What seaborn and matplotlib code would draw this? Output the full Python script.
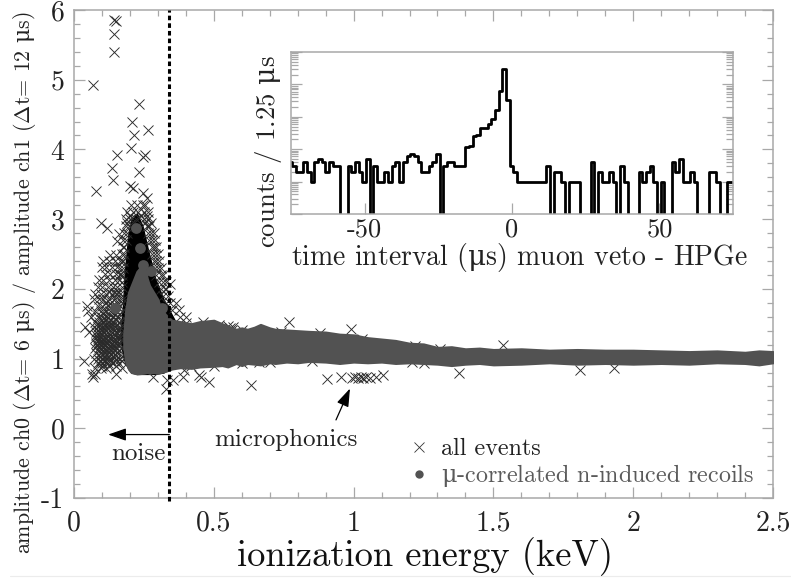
import numpy as np
import matplotlib.pyplot as plt
import seaborn as sns
from matplotlib.lines import Line2D
from matplotlib.ticker import MultipleLocator, LogLocator, NullFormatter

sns.set_style("ticks")
plt.rcParams["font.family"] = ["cmr10", "DejaVu Serif"]
plt.rcParams["mathtext.fontset"] = "custom"
plt.rcParams["mathtext.rm"] = "cmr10"
plt.rcParams["mathtext.it"] = "DejaVu Serif"
plt.rcParams["mathtext.fallback"] = "cm"
plt.rcParams["axes.unicode_minus"] = False

# outliers and crosses around the noise lobe
outlier_x = [.144, .151, .144, .143, .068, .231, .209, .266, .213, .203, .254, .248, .154,
             .135, .231, .139, .079, .200, .212, .248, .260, .095, .118, .162, .153]
outlier_y = [5.85, 5.84, 5.65, 5.40, 4.92, 4.65, 4.40, 4.28, 4.20, 4.02, 3.92, 3.89, 3.92,
             3.73, 3.68, 3.56, 3.40, 3.47, 3.44, 3.37, 3.30, 2.95, 2.87, 2.78, 2.69]

lobe_y = [2.48, 2.40, 2.32, 2.22, 2.12, 2.02, 1.93, 1.85, 1.76, 1.68, 1.60, 1.52, 1.45,
          1.38, 1.30, 1.22, 1.15, 1.08, 1.00, .93, .86, .78]
lobe_x = [[.13, .15], [.105, .125, .145, .165], [.10, .115, .135, .155], [.11, .13, .15, .165],
          [.09, .105, .125, .145, .16], [.085, .10, .12, .14, .155, .17],
          [.075, .095, .115, .135, .15, .165], [.07, .09, .105, .125, .145, .16, .175],
          [.045, .085, .10, .12, .135, .15, .165], [.05, .075, .095, .11, .13, .15, .17],
          [.06, .085, .10, .12, .14, .155], [.075, .09, .105, .125, .14, .16],
          [.04, .07, .085, .10, .115, .13, .145, .165],
          [.055, .08, .09, .105, .12, .135, .15, .17],
          [.075, .085, .095, .11, .125, .14, .155, .165],
          [.08, .09, .10, .115, .13, .145, .16], [.075, .09, .105, .12, .135, .15, .17],
          [.08, .095, .11, .125, .14, .155], [.07, .085, .10, .115, .13, .15, .165],
          [.085, .10, .12, .14, .16], [.075, .095, .115, .17], [.065, .075, .15]]

# second pass over the denser part of the lobe
dense_y = [1.96, 1.80, 1.64, 1.56, 1.48, 1.41, 1.34, 1.26, 1.19, 1.12, 1.04, .97, .90]
dense_x = [[.125, .145, .16], [.115, .13, .155, .17], [.105, .125, .145, .165],
           [.10, .115, .13, .15, .17], [.09, .11, .125, .14, .155, .17],
           [.085, .10, .115, .13, .145, .16], [.08, .09, .10, .118, .13, .148, .16, .172],
           [.085, .095, .108, .122, .138, .152, .168], [.082, .098, .112, .128, .142, .158],
           [.088, .102, .118, .132, .148, .162], [.092, .108, .122, .138, .152, .17],
           [.095, .11, .128, .145, .172], [.10, .125, .152]]

wing_y = [3.2, 3.1, 3.05, 3.0, 2.95, 2.9, 2.8, 2.7, 2.6, 2.5, 2.4, 2.3, 2.2, 2.1, 2.0, 1.9, 1.8, 1.7, 1.6]
wing_x = [[.205, .225, .245, .255], [.19, .21, .23, .25, .265], [.20, .24, .26],
          [.185, .20, .22, .25, .265], [.19, .215, .255, .275],
          [.185, .195, .26, .27], [.18, .19, .265, .275, .285], [.175, .185, .27, .28, .29],
          [.175, .18, .28, .285, .295], [.17, .178, .28, .29, .30], [.17, .175, .285, .295, .305],
          [.165, .175, .29, .30, .31], [.165, .172, .295, .31, .32], [.17, .305, .32, .33],
          [.31, .325, .33], [.32, .335], [.33, .345, .365], [.35, .375], [.38, .40]]

stray_x = [.035, .068, .284, .328, .331, .355, .389, .393, .447, .456, .483, .632, .343,
           .905, .955, .995, 1.005, 1.015, 1.025, 1.035, 1.045, 1.06, 1.08, 1.105, 1.377,
           1.81, 1.93, .769, .99, 1.535, .55, .558, .565, .57]
stray_y = [.97, .73, .74, .57, .69, .69, .74, .84, .76, .74, .66, .62, 2.07,
           .71, .73, .72, .73, .72, .74, .72, .73, .72, .73, .77, .79,
           .83, .86, 1.52, 1.42, 1.20, 1.47, 1.44, 1.41, 1.46]

# crosses half hidden along the band edges
edge_x = [.40, .46, .52, .60, .74, .88, 1.03, 1.22, 1.31,
          .42, .50, .60, .66, .70, .85, 1.21, 1.25]
edge_y = [1.51, 1.52, 1.48, 1.41, 1.38, 1.36, 1.28, 1.18, 1.14,
          .89, .90, .93, .95, .95, .97, .95, .94]

# black core of the spike
core_x = [.168, .175, .182, .195, .205, .225, .245, .265, .278, .29, .32, .34, .36]
core_lo = [1.25, 1.05, .95, .85, .80, .78, .78, .78, .78, .78, .80, .85, .90]
core_hi = [1.45, 1.75, 2.25, 2.80, 2.98, 3.08, 2.90, 2.55, 2.35, 2.15, 1.85, 1.70, 1.55]

# envelope of the dense recoil band
band_x = [.178, .185, .195, .205, .225, .25, .262, .27, .285, .30, .31, .33, .35, .38, .42, .45,
          .50, .53, .55, .58, .60, .62, .645, .667, .70, .72, .76, .80, .84, .90, .95, 1.0, 1.05,
          1.1, 1.15, 1.2, 1.25, 1.3, 1.35, 1.4, 1.45, 1.5, 1.6, 1.7, 1.8, 1.9, 2.0, 2.1, 2.2, 2.3,
          2.4, 2.45, 2.5]
band_lo = [1.15, .95, .85, .80, .78, .79, .80, .79, .80, .79, .80, .82, .85, .87, .86, .88,
           .89, .90, .88, .93, .90, .93, .92, .91, .94, .93, .95, .94, .96, .95, .93, .95, .94,
           .95, .93, .94, .93, .92, .90, .92, .93, .91, .92, .94, .92, .93, .92, .93, .92, .94,
           .93, .91, .94]
band_hi = [1.35, 1.70, 1.95, 2.05, 2.25, 2.37, 2.15, 2.05, 1.95, 1.85, 1.72, 1.62, 1.55, 1.53, 1.50, 1.53,
           1.55, 1.50, 1.47, 1.42, 1.44, 1.42, 1.45, 1.49, 1.44, 1.42, 1.41, 1.40, 1.39, 1.38, 1.35, 1.34, 1.30,
           1.28, 1.26, 1.22, 1.21, 1.16, 1.17, 1.14, 1.15, 1.13, 1.14, 1.12, 1.13, 1.12, 1.12, 1.11, 1.10, 1.11,
           1.09, 1.11, 1.10]

spot_x = [.222, .236, .248, .274, .313, .147]
spot_y = [2.88, 2.58, 2.34, 2.25, 1.72, 1.72]

# inset histogram, 1.25 us bins
hist_counts = [4, 3, 2, 2, 4, 2, 1, 4, 5, 4, 2, 4, 3, 3, 0, 0, 3, 2, 4, 2, 1, 5, 0, 3, 1, 1, 2, 1, 3,
               4, 1, 4, 6, 7, 6, 4, 2, 2, 3, 4, 7, 0, 3, 4, 4, 3, 3, 3,
               12, 13, 26, 28, 45, 45, 62, 83, 160, 630, 3000, 325, 3, 2,
               1, 1, 1, 1, 1, 1, 1, 1, 3, 0, 2, 2, 1, 0, 1, 1, 1, 0, 0, 0, 4, 0, 2, 1, 1, 2, 1, 0,
               3, 1, 0, 0, 0, 2, 1, 2, 3, 1, 0, 1, 0, 0, 4, 2, 5, 1, 1, 2, 1, 0, 0, 0, 2, 2, 1, 0,
               0, 1, 1]
bin_width = 1.25
hist_start = -75.8

cross_x = (outlier_x + [x for row in lobe_x for x in row] + [x for row in dense_x for x in row]
           + [x for row in wing_x for x in row] + stray_x + edge_x)
cross_y = (outlier_y + [y for y, row in zip(lobe_y, lobe_x) for _ in row]
           + [y for y, row in zip(dense_y, dense_x) for _ in row]
           + [y for y, row in zip(wing_y, wing_x) for _ in row] + stray_y + edge_y)

W, H = 791, 580
fig = plt.figure(figsize=(W / 100, H / 100), dpi=100)
ax = fig.add_axes([74 / W, 1 - 498 / H, 699 / W, 488 / H])

ax.fill_between(core_x, core_lo, core_hi, color="black", lw=1, zorder=2)
sns.scatterplot(x=cross_x, y=cross_y, marker="x", s=52, color="#2a2a2a", linewidth=0.65, ax=ax, zorder=3)
ax.fill_between(band_x, band_lo, band_hi, color="#525252", lw=1.5, zorder=4)
sns.scatterplot(x=spot_x, y=spot_y, color="#525252", s=60, linewidth=0, ax=ax, zorder=5)

ax.plot([.341, .341], [-1.05, 6], color="black", lw=2.2, dashes=(1.5, 1), clip_on=False, zorder=6)

ax.set_xlim(0, 2.5)
ax.set_ylim(-1, 6)
ax.xaxis.set_minor_locator(MultipleLocator(0.1))
ax.yaxis.set_minor_locator(MultipleLocator(0.2))
ax.set_xticks([0, .5, 1, 1.5, 2, 2.5], ["0", "0.5", "1", "1.5", "2", "2.5"])
ax.set_yticks(range(-1, 7), ["-1", "0", "1", "2", "3", "4", "5", "6"])
ax.tick_params(which="both", direction="in", top=True, right=True, color="#a8a8a8", width=0.9)
ax.tick_params(which="major", length=8, labelsize=20, labelcolor="#222222")
ax.tick_params(which="minor", length=4)
ax.tick_params(axis="x", which="major", pad=9)
ax.tick_params(axis="y", which="major", pad=7)
for s in ax.spines.values():
    s.set_color("#a8a8a8")
    s.set_linewidth(1.1)

fig.text(25 / W, 1 - 283 / H, r"amplitude ch0 ($\Delta$t= 6 $\mu$s) / amplitude ch1 ($\Delta$t= 12 $\mu$s)",
         rotation=90, ha="center", va="center", fontsize=15.8, color="#222222")
fig.text(425 / W, 1 - 566 / H, "ionization energy (keV)", ha="center", va="baseline",
         fontsize=26.3, color="#111111")

head = "-|>,head_length=1.1,head_width=0.38"
ax.annotate("", xy=(.122, -.09), xytext=(.341, -.09),
            arrowprops=dict(arrowstyle=head, color="black", lw=0.9, shrinkA=0, shrinkB=0))
ax.text(.232, -.455, "noise", ha="center", va="baseline", fontsize=18, color="#222222")
ax.annotate("", xy=(.987, .57), xytext=(.937, .12),
            arrowprops=dict(arrowstyle=head, color="black", lw=0.9, shrinkA=0, shrinkB=0))
ax.text(1.016, -.254, "microphonics", ha="right", va="baseline", fontsize=18, color="#222222")

handles = [Line2D([], [], ls="", marker="x", ms=7, mew=0.6, color="#333333"),
           Line2D([], [], ls="", marker="o", ms=6, mew=0, color="#525252")]
ax.legend(handles, ["all events", r"$\mu$-correlated n-induced recoils"], frameon=False,
          fontsize=17.3, labelcolor=["#222222", "#5a5a5a"], loc="lower right",
          bbox_to_anchor=(754 / W, 1 - 489 / H), bbox_transform=fig.transFigure,
          borderpad=0, borderaxespad=0, handletextpad=0.4, handlelength=1.0, labelspacing=0.08)

# inset
ins = fig.add_axes([291 / W, 1 - 214 / H, 442 / W, 162 / H])
centres = [hist_start + bin_width * (i + 0.5) for i in range(len(hist_counts))]
edges = [hist_start + bin_width * i for i in range(len(hist_counts) + 1)]
ins.set_yscale("log")
sns.histplot(x=centres, weights=hist_counts, bins=edges, element="step", fill=False,
             color="black", linewidth=2.0, ax=ins)
ins.set_xlim(-75, 75)
ins.set_ylim(0.1, 1e4)
ins.set_xticks([-50, 0, 50], ["-50", "0", "50"])
ins.yaxis.set_major_locator(LogLocator(base=10, numticks=8))
ins.yaxis.set_minor_locator(LogLocator(base=10, subs=np.arange(2, 10), numticks=8))
ins.yaxis.set_major_formatter(NullFormatter())
ins.yaxis.set_minor_formatter(NullFormatter())
ins.tick_params(which="both", direction="in", left=True, right=True, color="#a8a8a8", width=0.9)
ins.tick_params(which="major", length=8, labelsize=19, labelcolor="#222222", pad=2.5)
ins.tick_params(which="minor", length=5)
ins.set_xlabel("")
ins.set_ylabel("")
for s in ins.spines.values():
    s.set_color("#a8a8a8")
    s.set_linewidth(1.1)
fig.text(268 / W, 1 - 152 / H, r"counts / 1.25 $\mu$s", rotation=90, ha="center", va="center",
         fontsize=19.3, color="#222222")
fig.text(520 / W, 1 - 265 / H, r"time interval ($\mu$s) muon veto - HPGe", ha="center", va="baseline",
         fontsize=20, color="#222222")

fig.add_artist(Line2D([10 / W, 1], [1 - 576 / H] * 2, color="#ececec", lw=0.8))

fig.savefig("out.png", dpi=100)
